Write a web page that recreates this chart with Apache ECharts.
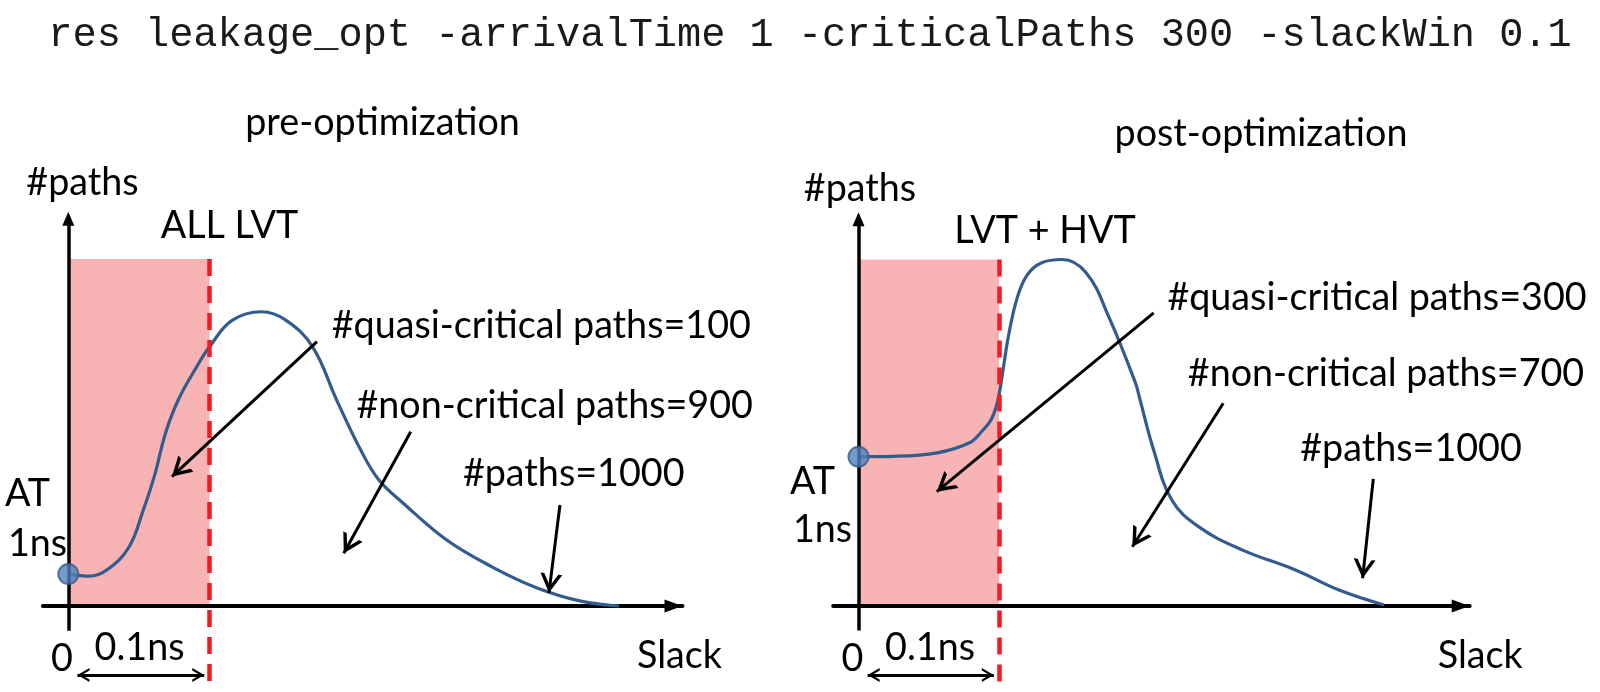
<!DOCTYPE html>
<html><head><meta charset="utf-8">
<script src="https://cdn.jsdelivr.net/npm/echarts@6/dist/echarts.min.js"></script>
<style>html,body{margin:0;padding:0;background:#fff}#c{width:1600px;height:692px}</style>
</head><body><div id="c"></div>
<script>
// ---------------- data ----------------
const commandLine = 'res leakage_opt -arrivalTime 1 -criticalPaths 300 -slackWin 0.1';
const panelTitles = ['pre-optimization', 'post-optimization'];
const vtLabels = ['ALL LVT', 'LVT + HVT'];
const yAxisName = '#paths';
const xAxisName = 'Slack';
const atLabel = ['AT', '1ns'];
const zeroLabel = '0';
const windowLabel = '0.1ns';

const slackWindow = 0.1;      // ns
const windowHeight = 100;     // relative #paths

const preSlack = [0, 0.015, 0.028, 0.043, 0.053, 0.061, 0.069, 0.078, 0.091, 0.100, 0.116, 0.137, 0.154, 0.173, 0.190, 0.207, 0.220, 0.237, 0.268, 0.300, 0.332, 0.363, 0.390];
const prePaths = [9.2, 8.6, 10.6, 17.0, 27.5, 37.5, 50.0, 59.5, 69.0, 74.7, 82.3, 84.8, 82.4, 74.7, 59.4, 45.0, 36.3, 29.7, 19.0, 11.3, 5.2, 1.4, 0];

const postSlack = [0, 0.025, 0.056, 0.079, 0.088, 0.094, 0.098, 0.1005, 0.103, 0.107, 0.113, 0.120, 0.130, 0.145, 0.162, 0.178, 0.197, 0.2004, 0.210, 0.223, 0.242, 0.273, 0.311, 0.342, 0.374];
const postPaths = [43.1, 43.2, 44.2, 47.1, 50.5, 53.5, 57.5, 62.0, 68.5, 78.5, 89.0, 95.5, 99.0, 100, 96.2, 83.6, 64.5, 59.5, 45.1, 30.6, 22.9, 16.2, 10.4, 4.6, 0.3];

const preNotes = ['#quasi-critical paths=100', '#non-critical paths=900', '#paths=1000'];
const postNotes = ['#quasi-critical paths=300', '#non-critical paths=700', '#paths=1000'];
const preArrowFrom = [[0.1761, 76.2], [0.2425, 50.2], [0.3482, 29.1]];
const preArrowTo   = [[0.0734, 37.3], [0.1951, 15.2], [0.3404, 3.8]];
const postArrowFrom = [[0.2101, 84.6], [0.2596, 58.5], [0.3664, 36.7]];
const postArrowTo   = [[0.0557, 33.0], [0.1949, 17.1], [0.3588, 8.0]];

// ---------------- layout ----------------
const xMin = -0.018, xMax = 0.435, yMin = -24, yMax = 113.6;
const yAxisBottom = -7.1, yAxisTop = 111.6;
const dashBottom = -22.8, spanY = -19.9, spanX = [0.0065, 0.0963];
const panels = [
  {ox: 68.3, oy: 606, sx: 1412, sy: 3.47},
  {ox: 858.5, oy: 606, sx: 1405, sy: 3.465}
];
const FONT = 'Lato, "Open Sans", sans-serif';
const K = 0.24;
const chev = 'path://M5,-10L5,-10M0,10L5,0L10,10L8.2,10L5,3.6L1.8,10Z';

const curveColor = '#325b8e';
const pink = '#f8b3b5';
const red = '#ee1c25';

const grids = [], xAxes = [], yAxes = [], series = [];
const series2 = [
  {slack: preSlack, paths: prePaths, from: preArrowFrom, to: preArrowTo},
  {slack: postSlack, paths: postPaths, from: postArrowFrom, to: postArrowTo}
];
panels.forEach((p, i) => {
  grids.push({left: p.ox + xMin * p.sx, top: p.oy - yMax * p.sy,
    width: (xMax - xMin) * p.sx, height: (yMax - yMin) * p.sy});
  xAxes.push({gridIndex: i, type: 'value', min: xMin, max: xMax, z: 3,
    axisLine: {show: true, onZero: true, symbol: ['none', 'triangle'], symbolSize: [13, 18], symbolOffset: [0, -9],
      lineStyle: {color: '#000', width: 4}},
    axisTick: {show: false}, axisLabel: {show: false}, splitLine: {show: false}});
  yAxes.push({gridIndex: i, type: 'value', min: yMin, max: yMax,
    axisLine: {show: false}, axisTick: {show: false}, axisLabel: {show: false}, splitLine: {show: false}});
  const d = series2[i];
  const base = {xAxisIndex: i, yAxisIndex: i, clip: false, silent: true, animation: false};
  series.push(Object.assign({}, base, {type: 'line', data: [], z: 1,
    markArea: {silent: true, itemStyle: {color: pink}, data: [[{coord: [0, 0]}, {coord: [slackWindow, windowHeight]}]]}}));
  // y axis drawn as a marker line (so it can stop short of the grid bottom)
  series.push(Object.assign({}, base, {type: 'line', data: [], z: 3,
    markLine: {silent: true, symbol: ['none', 'triangle'], symbolSize: [12, 14], label: {show: false},
      lineStyle: {color: '#000', width: 3.5, type: 'solid'},
      data: [[{coord: [0, yAxisBottom]}, {coord: [0, yAxisTop]}]]}}));
  series.push(Object.assign({}, base, {type: 'line', z: 4, smooth: 0.4, showSymbol: false,
    lineStyle: {color: curveColor, width: 3.2}, data: d.slack.map((x, k) => [x, d.paths[k]])}));
  series.push(Object.assign({}, base, {type: 'line', data: [], z: 6,
    markLine: {silent: true, symbol: 'none', label: {show: false}, lineStyle: {color: red, width: 4.5, type: [17, 10]},
      data: [[{coord: [slackWindow, windowHeight]}, {coord: [slackWindow, dashBottom]}]]}}));
  series.push(Object.assign({}, base, {type: 'line', data: [], z: 7,
    markLine: {silent: true, symbol: ['none', chev], symbolSize: [22, 38], label: {show: false},
      lineStyle: {color: '#000', width: 3, type: 'solid'},
      data: d.from.map((f, k) => [{coord: f}, {coord: d.to[k]}])}}));
  series.push(Object.assign({}, base, {type: 'line', data: [], z: 7,
    markLine: {silent: true, symbol: [chev, chev], symbolSize: [14, 24], label: {show: false},
      lineStyle: {color: '#000', width: 3, type: 'solid'},
      data: [[{coord: [spanX[0], spanY]}, {coord: [spanX[1], spanY]}]]}}));
  series.push(Object.assign({}, base, {type: 'scatter', z: 8, symbolSize: 20,
    itemStyle: {color: '#4f81bd', borderColor: '#385d8a', borderWidth: 2},
    data: [[d.slack[0], d.paths[0]]]}));
});

function txt(text, cx, baseline, size, font, k, color) {
  const f = font || FONT;
  return {type: 'text', x: cx, y: baseline - (k == null ? K : k) * size, silent: true, z: 100,
    style: {text: text, font: size + 'px ' + f, fill: color || '#000',
      align: 'center', textAlign: 'center', verticalAlign: 'middle', textVerticalAlign: 'middle'}};
}
const S = 37.7;
const graphics = [
  txt(commandLine, 810, 41.7, 40.3, '"Liberation Mono", "DejaVu Sans Mono", monospace', 0.17, '#1a1a1a'),
  // left panel
  txt(panelTitles[0], 382.5, 131.7, S),
  txt(yAxisName, 82.5, 191.7, S),
  txt(vtLabels[0], 229.5, 235, S),
  txt(preNotes[0], 541.3, 335, S),
  txt(preNotes[1], 554.7, 415, S),
  txt(preNotes[2], 573.7, 483.3, S),
  txt(atLabel[0], 27.5, 503.3, S),
  txt(atLabel[1], 37.5, 552.7, S),
  txt(zeroLabel, 62, 668.3, S),
  txt(windowLabel, 139.5, 657.3, S),
  txt(xAxisName, 679.5, 665, S),
  // right panel
  txt(panelTitles[1], 1261, 143.3, S),
  txt(yAxisName, 860, 198.3, S),
  txt(vtLabels[1], 1045, 240, S),
  txt(postNotes[0], 1377, 306.7, S),
  txt(postNotes[1], 1386, 383.3, S),
  txt(postNotes[2], 1411, 458.3, S),
  txt(atLabel[0], 812.5, 490.7, S),
  txt(atLabel[1], 822.5, 539.3, S),
  txt(zeroLabel, 852.5, 668.3, S),
  txt(windowLabel, 930, 657.3, S),
  txt(xAxisName, 1480.3, 665, S)
];

const chart = echarts.init(document.getElementById('c'), null, {renderer: 'canvas'});
chart.setOption({
  animation: false,
  backgroundColor: '#fff',
  grid: grids, xAxis: xAxes, yAxis: yAxes, series: series,
  graphic: {elements: graphics}
});
</script>
</body></html>
